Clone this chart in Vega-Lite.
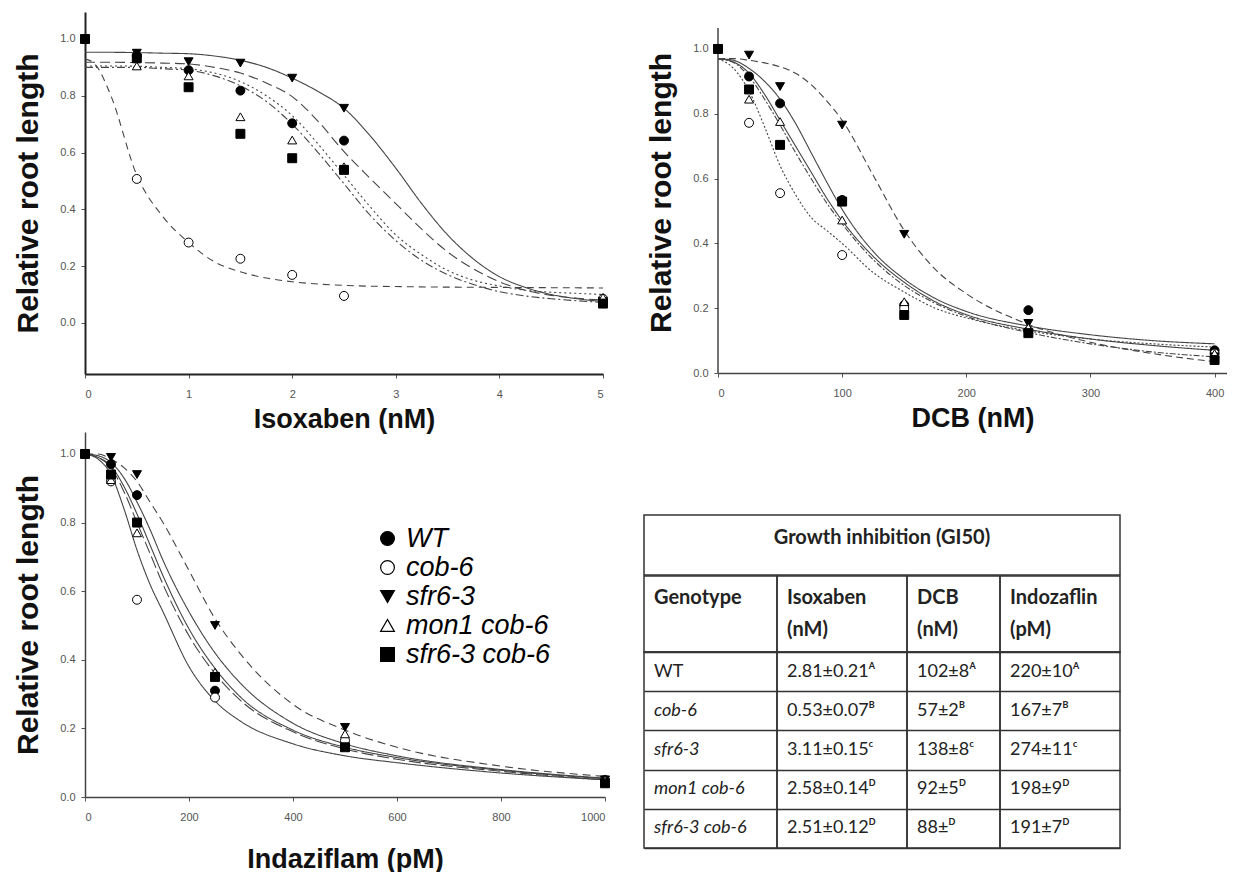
{
  "$schema": "https://vega.github.io/schema/vega-lite/v6.json",
  "background": "white",
  "padding": {"left": 13, "top": 12, "right": 0, "bottom": 0},
  "config": {
    "view": {"stroke": null},
    "font": "Liberation Sans",
    "axis": {"labelFont": "Liberation Sans", "labelFontSize": 11, "labelColor": "#555", "tickColor": "#555", "domainColor": "#444", "domainWidth": 1.5, "tickSize": 4, "titleFont": "Liberation Sans", "titleColor": "#111", "titleFontWeight": "bold", "grid": false},
    "axisX": {"labelPadding": 10, "titleFontSize": 27, "titlePadding": 7},
    "axisY": {"labelPadding": 6, "titleFontSize": 30, "titlePadding": 16}
  },
  "datasets": {
    "isoFit": [
      {"genotype":"sfr6-3","conc":0,"rel":0.953},{"genotype":"sfr6-3","conc":0.25,"rel":0.953},{"genotype":"sfr6-3","conc":0.5,"rel":0.952},{"genotype":"sfr6-3","conc":0.75,"rel":0.95},{"genotype":"sfr6-3","conc":1,"rel":0.948},{"genotype":"sfr6-3","conc":1.25,"rel":0.94},{"genotype":"sfr6-3","conc":1.5,"rel":0.925},{"genotype":"sfr6-3","conc":1.75,"rel":0.9},{"genotype":"sfr6-3","conc":2,"rel":0.862},{"genotype":"sfr6-3","conc":2.25,"rel":0.815},{"genotype":"sfr6-3","conc":2.5,"rel":0.756},{"genotype":"sfr6-3","conc":2.75,"rel":0.66},{"genotype":"sfr6-3","conc":3,"rel":0.545},{"genotype":"sfr6-3","conc":3.25,"rel":0.42},{"genotype":"sfr6-3","conc":3.5,"rel":0.31},{"genotype":"sfr6-3","conc":3.75,"rel":0.225},{"genotype":"sfr6-3","conc":4,"rel":0.163},{"genotype":"sfr6-3","conc":4.25,"rel":0.125},{"genotype":"sfr6-3","conc":4.5,"rel":0.1},{"genotype":"sfr6-3","conc":4.75,"rel":0.085},{"genotype":"sfr6-3","conc":5,"rel":0.075},
      {"genotype":"WT","conc":0,"rel":0.918},{"genotype":"WT","conc":0.25,"rel":0.918},{"genotype":"WT","conc":0.5,"rel":0.917},{"genotype":"WT","conc":0.75,"rel":0.915},{"genotype":"WT","conc":1,"rel":0.912},{"genotype":"WT","conc":1.25,"rel":0.9},{"genotype":"WT","conc":1.5,"rel":0.88},{"genotype":"WT","conc":1.75,"rel":0.845},{"genotype":"WT","conc":2,"rel":0.797},{"genotype":"WT","conc":2.25,"rel":0.71},{"genotype":"WT","conc":2.5,"rel":0.603},{"genotype":"WT","conc":2.75,"rel":0.51},{"genotype":"WT","conc":3,"rel":0.42},{"genotype":"WT","conc":3.25,"rel":0.33},{"genotype":"WT","conc":3.5,"rel":0.25},{"genotype":"WT","conc":3.75,"rel":0.19},{"genotype":"WT","conc":4,"rel":0.145},{"genotype":"WT","conc":4.25,"rel":0.115},{"genotype":"WT","conc":4.5,"rel":0.097},{"genotype":"WT","conc":4.75,"rel":0.087},{"genotype":"WT","conc":5,"rel":0.08},
      {"genotype":"mon1 cob-6","conc":0,"rel":0.905},{"genotype":"mon1 cob-6","conc":0.25,"rel":0.905},{"genotype":"mon1 cob-6","conc":0.5,"rel":0.904},{"genotype":"mon1 cob-6","conc":0.75,"rel":0.9},{"genotype":"mon1 cob-6","conc":1,"rel":0.895},{"genotype":"mon1 cob-6","conc":1.25,"rel":0.88},{"genotype":"mon1 cob-6","conc":1.5,"rel":0.85},{"genotype":"mon1 cob-6","conc":1.75,"rel":0.8},{"genotype":"mon1 cob-6","conc":2,"rel":0.73},{"genotype":"mon1 cob-6","conc":2.25,"rel":0.63},{"genotype":"mon1 cob-6","conc":2.5,"rel":0.52},{"genotype":"mon1 cob-6","conc":2.75,"rel":0.41},{"genotype":"mon1 cob-6","conc":3,"rel":0.31},{"genotype":"mon1 cob-6","conc":3.25,"rel":0.24},{"genotype":"mon1 cob-6","conc":3.5,"rel":0.185},{"genotype":"mon1 cob-6","conc":3.75,"rel":0.15},{"genotype":"mon1 cob-6","conc":4,"rel":0.13},{"genotype":"mon1 cob-6","conc":4.25,"rel":0.115},{"genotype":"mon1 cob-6","conc":4.5,"rel":0.108},{"genotype":"mon1 cob-6","conc":4.75,"rel":0.104},{"genotype":"mon1 cob-6","conc":5,"rel":0.1},
      {"genotype":"sfr6-3 cob-6","conc":0,"rel":0.9},{"genotype":"sfr6-3 cob-6","conc":0.25,"rel":0.9},{"genotype":"sfr6-3 cob-6","conc":0.5,"rel":0.9},{"genotype":"sfr6-3 cob-6","conc":0.75,"rel":0.895},{"genotype":"sfr6-3 cob-6","conc":1,"rel":0.89},{"genotype":"sfr6-3 cob-6","conc":1.25,"rel":0.87},{"genotype":"sfr6-3 cob-6","conc":1.5,"rel":0.835},{"genotype":"sfr6-3 cob-6","conc":1.75,"rel":0.78},{"genotype":"sfr6-3 cob-6","conc":2,"rel":0.7},{"genotype":"sfr6-3 cob-6","conc":2.25,"rel":0.6},{"genotype":"sfr6-3 cob-6","conc":2.5,"rel":0.49},{"genotype":"sfr6-3 cob-6","conc":2.75,"rel":0.38},{"genotype":"sfr6-3 cob-6","conc":3,"rel":0.29},{"genotype":"sfr6-3 cob-6","conc":3.25,"rel":0.22},{"genotype":"sfr6-3 cob-6","conc":3.5,"rel":0.17},{"genotype":"sfr6-3 cob-6","conc":3.75,"rel":0.135},{"genotype":"sfr6-3 cob-6","conc":4,"rel":0.11},{"genotype":"sfr6-3 cob-6","conc":4.25,"rel":0.095},{"genotype":"sfr6-3 cob-6","conc":4.5,"rel":0.085},{"genotype":"sfr6-3 cob-6","conc":4.75,"rel":0.078},{"genotype":"sfr6-3 cob-6","conc":5,"rel":0.072},
      {"genotype":"cob-6","conc":0,"rel":0.93},{"genotype":"cob-6","conc":0.1,"rel":0.91},{"genotype":"cob-6","conc":0.25,"rel":0.8},{"genotype":"cob-6","conc":0.5,"rel":0.52},{"genotype":"cob-6","conc":0.75,"rel":0.375},{"genotype":"cob-6","conc":1,"rel":0.283},{"genotype":"cob-6","conc":1.25,"rel":0.215},{"genotype":"cob-6","conc":1.5,"rel":0.18},{"genotype":"cob-6","conc":1.75,"rel":0.158},{"genotype":"cob-6","conc":2,"rel":0.145},{"genotype":"cob-6","conc":2.5,"rel":0.132},{"genotype":"cob-6","conc":3,"rel":0.128},{"genotype":"cob-6","conc":3.5,"rel":0.126},{"genotype":"cob-6","conc":4,"rel":0.125},{"genotype":"cob-6","conc":4.5,"rel":0.124},{"genotype":"cob-6","conc":5,"rel":0.123}
    ],
    "isoPts": [
      {"genotype":"WT","conc":0,"rel":1.0},{"genotype":"WT","conc":0.5,"rel":0.94},{"genotype":"WT","conc":1,"rel":0.89},{"genotype":"WT","conc":1.5,"rel":0.818},{"genotype":"WT","conc":2,"rel":0.703},{"genotype":"WT","conc":2.5,"rel":0.642},{"genotype":"WT","conc":5,"rel":0.075},
      {"genotype":"cob-6","conc":0,"rel":1.0},{"genotype":"cob-6","conc":0.5,"rel":0.507},{"genotype":"cob-6","conc":1,"rel":0.283},{"genotype":"cob-6","conc":1.5,"rel":0.226},{"genotype":"cob-6","conc":2,"rel":0.169},{"genotype":"cob-6","conc":2.5,"rel":0.095},{"genotype":"cob-6","conc":5,"rel":0.085},
      {"genotype":"sfr6-3","conc":0,"rel":1.0},{"genotype":"sfr6-3","conc":0.5,"rel":0.95},{"genotype":"sfr6-3","conc":1,"rel":0.92},{"genotype":"sfr6-3","conc":1.5,"rel":0.915},{"genotype":"sfr6-3","conc":2,"rel":0.862},{"genotype":"sfr6-3","conc":2.5,"rel":0.756},{"genotype":"sfr6-3","conc":5,"rel":0.075},
      {"genotype":"mon1 cob-6","conc":0,"rel":1.0},{"genotype":"mon1 cob-6","conc":0.5,"rel":0.905},{"genotype":"mon1 cob-6","conc":1,"rel":0.87},{"genotype":"mon1 cob-6","conc":1.5,"rel":0.726},{"genotype":"mon1 cob-6","conc":2,"rel":0.644},{"genotype":"mon1 cob-6","conc":2.5,"rel":0.55},{"genotype":"mon1 cob-6","conc":5,"rel":0.09},
      {"genotype":"sfr6-3 cob-6","conc":0,"rel":1.0},{"genotype":"sfr6-3 cob-6","conc":0.5,"rel":0.932},{"genotype":"sfr6-3 cob-6","conc":1,"rel":0.83},{"genotype":"sfr6-3 cob-6","conc":1.5,"rel":0.666},{"genotype":"sfr6-3 cob-6","conc":2,"rel":0.58},{"genotype":"sfr6-3 cob-6","conc":2.5,"rel":0.539},{"genotype":"sfr6-3 cob-6","conc":5,"rel":0.068}
    ],
    "dcbFit": [
      {"genotype":"WT","conc":0,"rel":0.97},{"genotype":"WT","conc":12.5,"rel":0.965},{"genotype":"WT","conc":25,"rel":0.94},{"genotype":"WT","conc":37.5,"rel":0.9},{"genotype":"WT","conc":50,"rel":0.845},{"genotype":"WT","conc":62.5,"rel":0.77},{"genotype":"WT","conc":75,"rel":0.68},{"genotype":"WT","conc":87.5,"rel":0.59},{"genotype":"WT","conc":100,"rel":0.505},{"genotype":"WT","conc":125,"rel":0.375},{"genotype":"WT","conc":150,"rel":0.29},{"genotype":"WT","conc":175,"rel":0.23},{"genotype":"WT","conc":200,"rel":0.19},{"genotype":"WT","conc":250,"rel":0.145},{"genotype":"WT","conc":300,"rel":0.118},{"genotype":"WT","conc":350,"rel":0.1},{"genotype":"WT","conc":400,"rel":0.09},
      {"genotype":"sfr6-3","conc":0,"rel":0.97},{"genotype":"sfr6-3","conc":12.5,"rel":0.97},{"genotype":"sfr6-3","conc":25,"rel":0.965},{"genotype":"sfr6-3","conc":37.5,"rel":0.957},{"genotype":"sfr6-3","conc":50,"rel":0.945},{"genotype":"sfr6-3","conc":62.5,"rel":0.925},{"genotype":"sfr6-3","conc":75,"rel":0.89},{"genotype":"sfr6-3","conc":87.5,"rel":0.84},{"genotype":"sfr6-3","conc":100,"rel":0.78},{"genotype":"sfr6-3","conc":125,"rel":0.61},{"genotype":"sfr6-3","conc":150,"rel":0.44},{"genotype":"sfr6-3","conc":175,"rel":0.32},{"genotype":"sfr6-3","conc":200,"rel":0.245},{"genotype":"sfr6-3","conc":250,"rel":0.15},{"genotype":"sfr6-3","conc":300,"rel":0.095},{"genotype":"sfr6-3","conc":350,"rel":0.06},{"genotype":"sfr6-3","conc":400,"rel":0.035},
      {"genotype":"mon1 cob-6","conc":0,"rel":0.97},{"genotype":"mon1 cob-6","conc":12.5,"rel":0.96},{"genotype":"mon1 cob-6","conc":25,"rel":0.925},{"genotype":"mon1 cob-6","conc":37.5,"rel":0.86},{"genotype":"mon1 cob-6","conc":50,"rel":0.78},{"genotype":"mon1 cob-6","conc":62.5,"rel":0.7},{"genotype":"mon1 cob-6","conc":75,"rel":0.62},{"genotype":"mon1 cob-6","conc":87.5,"rel":0.54},{"genotype":"mon1 cob-6","conc":100,"rel":0.47},{"genotype":"mon1 cob-6","conc":125,"rel":0.36},{"genotype":"mon1 cob-6","conc":150,"rel":0.28},{"genotype":"mon1 cob-6","conc":175,"rel":0.22},{"genotype":"mon1 cob-6","conc":200,"rel":0.18},{"genotype":"mon1 cob-6","conc":250,"rel":0.135},{"genotype":"mon1 cob-6","conc":300,"rel":0.105},{"genotype":"mon1 cob-6","conc":350,"rel":0.085},{"genotype":"mon1 cob-6","conc":400,"rel":0.07},
      {"genotype":"sfr6-3 cob-6","conc":0,"rel":0.97},{"genotype":"sfr6-3 cob-6","conc":12.5,"rel":0.958},{"genotype":"sfr6-3 cob-6","conc":25,"rel":0.915},{"genotype":"sfr6-3 cob-6","conc":37.5,"rel":0.845},{"genotype":"sfr6-3 cob-6","conc":50,"rel":0.765},{"genotype":"sfr6-3 cob-6","conc":62.5,"rel":0.68},{"genotype":"sfr6-3 cob-6","conc":75,"rel":0.6},{"genotype":"sfr6-3 cob-6","conc":87.5,"rel":0.525},{"genotype":"sfr6-3 cob-6","conc":100,"rel":0.46},{"genotype":"sfr6-3 cob-6","conc":125,"rel":0.35},{"genotype":"sfr6-3 cob-6","conc":150,"rel":0.27},{"genotype":"sfr6-3 cob-6","conc":175,"rel":0.215},{"genotype":"sfr6-3 cob-6","conc":200,"rel":0.175},{"genotype":"sfr6-3 cob-6","conc":250,"rel":0.125},{"genotype":"sfr6-3 cob-6","conc":300,"rel":0.09},{"genotype":"sfr6-3 cob-6","conc":350,"rel":0.065},{"genotype":"sfr6-3 cob-6","conc":400,"rel":0.05},
      {"genotype":"cob-6","conc":0,"rel":0.97},{"genotype":"cob-6","conc":12.5,"rel":0.94},{"genotype":"cob-6","conc":25,"rel":0.87},{"genotype":"cob-6","conc":37.5,"rel":0.76},{"genotype":"cob-6","conc":50,"rel":0.64},{"genotype":"cob-6","conc":62.5,"rel":0.55},{"genotype":"cob-6","conc":75,"rel":0.48},{"genotype":"cob-6","conc":87.5,"rel":0.44},{"genotype":"cob-6","conc":100,"rel":0.4},{"genotype":"cob-6","conc":125,"rel":0.31},{"genotype":"cob-6","conc":150,"rel":0.25},{"genotype":"cob-6","conc":175,"rel":0.2},{"genotype":"cob-6","conc":200,"rel":0.17},{"genotype":"cob-6","conc":250,"rel":0.13},{"genotype":"cob-6","conc":300,"rel":0.105},{"genotype":"cob-6","conc":350,"rel":0.09},{"genotype":"cob-6","conc":400,"rel":0.08}
    ],
    "dcbPts": [
      {"genotype":"WT","conc":0,"rel":1.0},{"genotype":"WT","conc":25,"rel":0.915},{"genotype":"WT","conc":50,"rel":0.832},{"genotype":"WT","conc":100,"rel":0.534},{"genotype":"WT","conc":150,"rel":0.21},{"genotype":"WT","conc":250,"rel":0.194},{"genotype":"WT","conc":400,"rel":0.07},
      {"genotype":"cob-6","conc":0,"rel":1.0},{"genotype":"cob-6","conc":25,"rel":0.772},{"genotype":"cob-6","conc":50,"rel":0.555},{"genotype":"cob-6","conc":100,"rel":0.364},{"genotype":"cob-6","conc":150,"rel":0.2},{"genotype":"cob-6","conc":250,"rel":0.13},{"genotype":"cob-6","conc":400,"rel":0.06},
      {"genotype":"sfr6-3","conc":0,"rel":1.0},{"genotype":"sfr6-3","conc":25,"rel":0.981},{"genotype":"sfr6-3","conc":50,"rel":0.884},{"genotype":"sfr6-3","conc":100,"rel":0.765},{"genotype":"sfr6-3","conc":150,"rel":0.428},{"genotype":"sfr6-3","conc":250,"rel":0.153},{"genotype":"sfr6-3","conc":400,"rel":0.05},
      {"genotype":"mon1 cob-6","conc":0,"rel":1.0},{"genotype":"mon1 cob-6","conc":25,"rel":0.845},{"genotype":"mon1 cob-6","conc":50,"rel":0.776},{"genotype":"mon1 cob-6","conc":100,"rel":0.472},{"genotype":"mon1 cob-6","conc":150,"rel":0.22},{"genotype":"mon1 cob-6","conc":250,"rel":0.14},{"genotype":"mon1 cob-6","conc":400,"rel":0.06},
      {"genotype":"sfr6-3 cob-6","conc":0,"rel":1.0},{"genotype":"sfr6-3 cob-6","conc":25,"rel":0.875},{"genotype":"sfr6-3 cob-6","conc":50,"rel":0.704},{"genotype":"sfr6-3 cob-6","conc":100,"rel":0.529},{"genotype":"sfr6-3 cob-6","conc":150,"rel":0.179},{"genotype":"sfr6-3 cob-6","conc":250,"rel":0.123},{"genotype":"sfr6-3 cob-6","conc":400,"rel":0.04}
    ],
    "indFit": [
      {"genotype":"cob-6","conc":0,"rel":1.0},{"genotype":"cob-6","conc":25,"rel":0.985},{"genotype":"cob-6","conc":50,"rel":0.94},{"genotype":"cob-6","conc":75,"rel":0.84},{"genotype":"cob-6","conc":100,"rel":0.72},{"genotype":"cob-6","conc":125,"rel":0.62},{"genotype":"cob-6","conc":150,"rel":0.54},{"genotype":"cob-6","conc":200,"rel":0.38},{"genotype":"cob-6","conc":250,"rel":0.28},{"genotype":"cob-6","conc":300,"rel":0.22},{"genotype":"cob-6","conc":400,"rel":0.155},{"genotype":"cob-6","conc":500,"rel":0.12},{"genotype":"cob-6","conc":600,"rel":0.1},{"genotype":"cob-6","conc":800,"rel":0.07},{"genotype":"cob-6","conc":1000,"rel":0.05},
      {"genotype":"sfr6-3 cob-6","conc":0,"rel":1.0},{"genotype":"sfr6-3 cob-6","conc":25,"rel":0.99},{"genotype":"sfr6-3 cob-6","conc":50,"rel":0.96},{"genotype":"sfr6-3 cob-6","conc":75,"rel":0.89},{"genotype":"sfr6-3 cob-6","conc":100,"rel":0.8},{"genotype":"sfr6-3 cob-6","conc":125,"rel":0.71},{"genotype":"sfr6-3 cob-6","conc":150,"rel":0.62},{"genotype":"sfr6-3 cob-6","conc":200,"rel":0.47},{"genotype":"sfr6-3 cob-6","conc":250,"rel":0.36},{"genotype":"sfr6-3 cob-6","conc":300,"rel":0.28},{"genotype":"sfr6-3 cob-6","conc":400,"rel":0.19},{"genotype":"sfr6-3 cob-6","conc":500,"rel":0.14},{"genotype":"sfr6-3 cob-6","conc":600,"rel":0.11},{"genotype":"sfr6-3 cob-6","conc":800,"rel":0.075},{"genotype":"sfr6-3 cob-6","conc":1000,"rel":0.05},
      {"genotype":"mon1 cob-6","conc":0,"rel":1.0},{"genotype":"mon1 cob-6","conc":25,"rel":0.99},{"genotype":"mon1 cob-6","conc":50,"rel":0.965},{"genotype":"mon1 cob-6","conc":75,"rel":0.905},{"genotype":"mon1 cob-6","conc":100,"rel":0.825},{"genotype":"mon1 cob-6","conc":125,"rel":0.735},{"genotype":"mon1 cob-6","conc":150,"rel":0.645},{"genotype":"mon1 cob-6","conc":200,"rel":0.49},{"genotype":"mon1 cob-6","conc":250,"rel":0.375},{"genotype":"mon1 cob-6","conc":300,"rel":0.29},{"genotype":"mon1 cob-6","conc":400,"rel":0.195},{"genotype":"mon1 cob-6","conc":500,"rel":0.145},{"genotype":"mon1 cob-6","conc":600,"rel":0.115},{"genotype":"mon1 cob-6","conc":800,"rel":0.078},{"genotype":"mon1 cob-6","conc":1000,"rel":0.053},
      {"genotype":"WT","conc":0,"rel":1.0},{"genotype":"WT","conc":25,"rel":0.995},{"genotype":"WT","conc":50,"rel":0.975},{"genotype":"WT","conc":75,"rel":0.93},{"genotype":"WT","conc":100,"rel":0.86},{"genotype":"WT","conc":125,"rel":0.78},{"genotype":"WT","conc":150,"rel":0.69},{"genotype":"WT","conc":200,"rel":0.54},{"genotype":"WT","conc":250,"rel":0.42},{"genotype":"WT","conc":300,"rel":0.33},{"genotype":"WT","conc":400,"rel":0.215},{"genotype":"WT","conc":500,"rel":0.155},{"genotype":"WT","conc":600,"rel":0.12},{"genotype":"WT","conc":800,"rel":0.08},{"genotype":"WT","conc":1000,"rel":0.055},
      {"genotype":"sfr6-3","conc":0,"rel":1.0},{"genotype":"sfr6-3","conc":25,"rel":1.0},{"genotype":"sfr6-3","conc":50,"rel":0.985},{"genotype":"sfr6-3","conc":75,"rel":0.96},{"genotype":"sfr6-3","conc":100,"rel":0.92},{"genotype":"sfr6-3","conc":125,"rel":0.86},{"genotype":"sfr6-3","conc":150,"rel":0.8},{"genotype":"sfr6-3","conc":200,"rel":0.66},{"genotype":"sfr6-3","conc":250,"rel":0.52},{"genotype":"sfr6-3","conc":300,"rel":0.415},{"genotype":"sfr6-3","conc":400,"rel":0.27},{"genotype":"sfr6-3","conc":500,"rel":0.195},{"genotype":"sfr6-3","conc":600,"rel":0.145},{"genotype":"sfr6-3","conc":800,"rel":0.09},{"genotype":"sfr6-3","conc":1000,"rel":0.06}
    ],
    "indPts": [
      {"genotype":"WT","conc":0,"rel":1.0},{"genotype":"WT","conc":50,"rel":0.97},{"genotype":"WT","conc":100,"rel":0.88},{"genotype":"WT","conc":250,"rel":0.31},{"genotype":"WT","conc":500,"rel":0.15},{"genotype":"WT","conc":1000,"rel":0.045},
      {"genotype":"cob-6","conc":0,"rel":1.0},{"genotype":"cob-6","conc":50,"rel":0.92},{"genotype":"cob-6","conc":100,"rel":0.575},{"genotype":"cob-6","conc":250,"rel":0.29},{"genotype":"cob-6","conc":500,"rel":0.165},{"genotype":"cob-6","conc":1000,"rel":0.05},
      {"genotype":"sfr6-3","conc":0,"rel":1.0},{"genotype":"sfr6-3","conc":50,"rel":0.99},{"genotype":"sfr6-3","conc":100,"rel":0.94},{"genotype":"sfr6-3","conc":250,"rel":0.5},{"genotype":"sfr6-3","conc":500,"rel":0.203},{"genotype":"sfr6-3","conc":1000,"rel":0.05},
      {"genotype":"mon1 cob-6","conc":0,"rel":1.0},{"genotype":"mon1 cob-6","conc":50,"rel":0.925},{"genotype":"mon1 cob-6","conc":100,"rel":0.77},{"genotype":"mon1 cob-6","conc":250,"rel":0.364},{"genotype":"mon1 cob-6","conc":500,"rel":0.184},{"genotype":"mon1 cob-6","conc":1000,"rel":0.05},
      {"genotype":"sfr6-3 cob-6","conc":0,"rel":1.0},{"genotype":"sfr6-3 cob-6","conc":50,"rel":0.94},{"genotype":"sfr6-3 cob-6","conc":100,"rel":0.8},{"genotype":"sfr6-3 cob-6","conc":250,"rel":0.35},{"genotype":"sfr6-3 cob-6","conc":500,"rel":0.145},{"genotype":"sfr6-3 cob-6","conc":1000,"rel":0.04}
    ],
    "gi50": [
      {"genotype":"WT","iso":"2.81±0.21ᴬ","dcb":"102±8ᴬ","ind":"220±10ᴬ"},
      {"genotype":"cob-6","iso":"0.53±0.07ᴮ","dcb":"57±2ᴮ","ind":"167±7ᴮ"},
      {"genotype":"sfr6-3","iso":"3.11±0.15ᶜ","dcb":"138±8ᶜ","ind":"274±11ᶜ"},
      {"genotype":"mon1 cob-6","iso":"2.58±0.14ᴰ","dcb":"92±5ᴰ","ind":"198±9ᴰ"},
      {"genotype":"sfr6-3 cob-6","iso":"2.51±0.12ᴰ","dcb":"88±ᴰ","ind":"191±7ᴰ"}
    ]
  },
  "spacing": 0,
  "resolve": {"scale": {"x": "independent", "y": "independent", "strokeDash": "independent"}},
  "vconcat": [
    {
      "spacing": 36,
      "resolve": {"scale": {"x": "independent", "y": "independent", "strokeDash": "independent"}},
      "hconcat": [
        {
          "width": 518, "height": 362,
          "layer": [
            {
              "data": {"name": "isoFit"},
              "mark": {"type": "line", "interpolate": "monotone", "color": "#444", "strokeWidth": 1.1},
              "encoding": {
                "x": {"field": "conc", "type": "quantitative", "title": "Isoxaben (nM)", "scale": {"domain": [0, 5]}, "axis": {"values": [0, 1, 2, 3, 4, 5], "format": "d", "domainColor": "#222", "domainWidth": 2}},
                "y": {"field": "rel", "type": "quantitative", "title": "Relative root length", "scale": {"domain": [-0.18, 1.095]}, "axis": {"values": [0, 0.2, 0.4, 0.6, 0.8, 1.0], "format": ".1f", "domainColor": "#222", "domainWidth": 2}},
                "strokeDash": {"field": "genotype", "type": "nominal", "legend": null, "scale": {"domain": ["WT", "cob-6", "sfr6-3", "mon1 cob-6", "sfr6-3 cob-6"], "range": [[10, 5], [7, 5], [1, 0], [2, 3], [8, 3, 2, 3]]}}
              }
            },
            {
              "data": {"name": "isoPts"},
              "mark": {"type": "point", "filled": true, "stroke": "black", "strokeWidth": 1, "size": 80, "opacity": 1},
              "encoding": {
                "x": {"field": "conc", "type": "quantitative", "title": "Isoxaben (nM)", "scale": {"domain": [0, 5]}},
                "y": {"field": "rel", "type": "quantitative", "title": "Relative root length", "scale": {"domain": [-0.18, 1.095]}},
                "shape": {"field": "genotype", "type": "nominal", "scale": {"domain": ["WT", "cob-6", "sfr6-3", "mon1 cob-6", "sfr6-3 cob-6"], "range": ["circle", "circle", "triangle-down", "triangle-up", "square"]}},
                "fill": {"field": "genotype", "type": "nominal", "scale": {"domain": ["WT", "cob-6", "sfr6-3", "mon1 cob-6", "sfr6-3 cob-6"], "range": ["black", "white", "black", "white", "black"]}}
              }
            }
          ]
        },
        {
          "width": 509, "height": 361,
          "layer": [
            {
              "data": {"values": [{"conc": 0, "lo": 0, "hi": 1.065}]},
              "mark": {"type": "rule", "color": "#444", "strokeWidth": 1.5},
              "encoding": {
                "x": {"field": "conc", "type": "quantitative", "title": "DCB (nM)", "scale": {"domain": [0, 410]}, "axis": {"values": [0, 100, 200, 300, 400], "format": "d"}},
                "y": {"field": "lo", "type": "quantitative", "title": "Relative root length", "scale": {"domain": [0, 1.114]}, "axis": {"values": [0, 0.2, 0.4, 0.6, 0.8, 1.0], "format": ".1f", "domain": false}},
                "y2": {"field": "hi"}
              }
            },
            {
              "data": {"name": "dcbFit"},
              "mark": {"type": "line", "interpolate": "monotone", "color": "#444", "strokeWidth": 1.1},
              "encoding": {
                "x": {"field": "conc", "type": "quantitative", "title": "DCB (nM)", "scale": {"domain": [0, 410]}},
                "y": {"field": "rel", "type": "quantitative", "title": "Relative root length", "scale": {"domain": [0, 1.114]}},
                "strokeDash": {"field": "genotype", "type": "nominal", "legend": null, "scale": {"domain": ["WT", "cob-6", "sfr6-3", "mon1 cob-6", "sfr6-3 cob-6"], "range": [[1, 0], [2, 2], [7, 4], [1, 0], [6, 2, 2, 2]]}}
              }
            },
            {
              "data": {"name": "dcbPts"},
              "mark": {"type": "point", "filled": true, "stroke": "black", "strokeWidth": 1, "size": 80, "opacity": 1},
              "encoding": {
                "x": {"field": "conc", "type": "quantitative", "title": "DCB (nM)", "scale": {"domain": [0, 410]}},
                "y": {"field": "rel", "type": "quantitative", "title": "Relative root length", "scale": {"domain": [0, 1.114]}},
                "shape": {"field": "genotype", "type": "nominal", "scale": {"domain": ["WT", "cob-6", "sfr6-3", "mon1 cob-6", "sfr6-3 cob-6"], "range": ["circle", "circle", "triangle-down", "triangle-up", "square"]}},
                "fill": {"field": "genotype", "type": "nominal", "scale": {"domain": ["WT", "cob-6", "sfr6-3", "mon1 cob-6", "sfr6-3 cob-6"], "range": ["black", "white", "black", "white", "black"]}}
              }
            }
          ]
        }
      ]
    },
    {
      "spacing": 31,
      "resolve": {"scale": {"x": "independent", "y": "independent", "strokeDash": "independent"}},
      "hconcat": [
        {
          "width": 520, "height": 365,
          "layer": [
            {
              "data": {"name": "indFit"},
              "mark": {"type": "line", "interpolate": "monotone", "color": "#444", "strokeWidth": 1.1},
              "encoding": {
                "x": {"field": "conc", "type": "quantitative", "title": "Indaziflam (pM)", "scale": {"domain": [0, 1000]}, "axis": {"values": [0, 200, 400, 600, 800, 1000], "format": "d", "titlePadding": 24}},
                "y": {"field": "rel", "type": "quantitative", "title": "Relative root length", "scale": {"domain": [0, 1.064]}, "axis": {"values": [0, 0.2, 0.4, 0.6, 0.8, 1.0], "format": ".1f"}},
                "strokeDash": {"field": "genotype", "type": "nominal", "legend": null, "scale": {"domain": ["WT", "cob-6", "sfr6-3", "mon1 cob-6", "sfr6-3 cob-6"], "range": [[1, 0], [1, 0], [8, 5], [1, 0], [12, 4]]}}
              }
            },
            {
              "data": {"name": "indPts"},
              "mark": {"type": "point", "filled": true, "stroke": "black", "strokeWidth": 1, "size": 80, "opacity": 1},
              "encoding": {
                "x": {"field": "conc", "type": "quantitative", "title": "Indaziflam (pM)", "scale": {"domain": [0, 1000]}},
                "y": {"field": "rel", "type": "quantitative", "title": "Relative root length", "scale": {"domain": [0, 1.064]}},
                "shape": {"field": "genotype", "type": "nominal", "scale": {"domain": ["WT", "cob-6", "sfr6-3", "mon1 cob-6", "sfr6-3 cob-6"], "range": ["circle", "circle", "triangle-down", "triangle-up", "square"]},
                  "legend": {"orient": "none", "legendX": 289, "legendY": 513, "title": null, "labelFont": "Liberation Sans", "labelFontSize": 27, "labelFontStyle": "italic", "labelColor": "black", "symbolSize": 190, "symbolStrokeColor": "black", "symbolStrokeWidth": 1.2, "rowPadding": 1, "labelOffset": 5, "encode": {"labels": {"fontStyle": {"condition": {"test": "datum.label === 'WT'", "value": "normal"}, "value": "italic"}}}}},
                "fill": {"field": "genotype", "type": "nominal", "scale": {"domain": ["WT", "cob-6", "sfr6-3", "mon1 cob-6", "sfr6-3 cob-6"], "range": ["black", "white", "black", "white", "black"]},
                  "legend": {"orient": "none", "legendX": 289, "legendY": 513, "title": null, "labelFont": "Liberation Sans", "labelFontSize": 27, "labelFontStyle": "italic", "labelColor": "black", "symbolSize": 190, "symbolStrokeColor": "black", "symbolStrokeWidth": 1.2, "rowPadding": 1, "labelOffset": 5, "encode": {"labels": {"fontStyle": {"condition": {"test": "datum.label === 'WT'", "value": "normal"}, "value": "italic"}}}}}
              }
            }
          ]
        },
        {
          "spacing": -1.5,
          "vconcat": [
            {
              "width": 476, "height": 83,
              "data": {"values": [{"t": ""}]},
              "mark": {"type": "text"},
              "encoding": {"text": {"field": "t", "type": "nominal"}}
            },
            {
              "width": 476, "height": 60,
              "view": {"stroke": "#333", "strokeWidth": 1.5},
              "data": {"values": [{"t": "Growth inhibition  (GI50)"}]},
              "mark": {"type": "text", "font": "Lato", "fontSize": 20, "fontWeight": "bold", "color": "#222", "dy": -7},
              "encoding": {"text": {"field": "t", "type": "nominal"}}
            },
            {
              "columns": 4,
              "spacing": 0,
              "bounds": "flush",
              "align": "each",
              "concat": [
                {"width": 133, "height": 76, "view": {"stroke": "#333", "strokeWidth": 1.5},
                 "data": {"values": [{"h": "Genotype\n "}]},
                 "mark": {"type": "text", "font": "Lato", "fontSize": 20, "fontWeight": "bold", "color": "#222", "align": "left", "dx": 10, "dy": -16, "lineBreak": "\n", "lineHeight": 32},
                 "encoding": {"x": {"datum": 0, "type": "quantitative", "scale": {"domain": [0, 1]}, "axis": null}, "text": {"field": "h", "type": "nominal"}}},
                {"width": 130, "height": 76, "view": {"stroke": "#333", "strokeWidth": 1.5},
                 "data": {"values": [{"h": "Isoxaben\n(nM)"}]},
                 "mark": {"type": "text", "font": "Lato", "fontSize": 20, "fontWeight": "bold", "color": "#222", "align": "left", "dx": 10, "dy": -16, "lineBreak": "\n", "lineHeight": 32},
                 "encoding": {"x": {"datum": 0, "type": "quantitative", "scale": {"domain": [0, 1]}, "axis": null}, "text": {"field": "h", "type": "nominal"}}},
                {"width": 93, "height": 76, "view": {"stroke": "#333", "strokeWidth": 1.5},
                 "data": {"values": [{"h": "DCB\n(nM)"}]},
                 "mark": {"type": "text", "font": "Lato", "fontSize": 20, "fontWeight": "bold", "color": "#222", "align": "left", "dx": 10, "dy": -16, "lineBreak": "\n", "lineHeight": 32},
                 "encoding": {"x": {"datum": 0, "type": "quantitative", "scale": {"domain": [0, 1]}, "axis": null}, "text": {"field": "h", "type": "nominal"}}},
                {"width": 120, "height": 76, "view": {"stroke": "#333", "strokeWidth": 1.5},
                 "data": {"values": [{"h": "Indozaflin\n(pM)"}]},
                 "mark": {"type": "text", "font": "Lato", "fontSize": 20, "fontWeight": "bold", "color": "#222", "align": "left", "dx": 10, "dy": -16, "lineBreak": "\n", "lineHeight": 32},
                 "encoding": {"x": {"datum": 0, "type": "quantitative", "scale": {"domain": [0, 1]}, "axis": null}, "text": {"field": "h", "type": "nominal"}}},
                {"width": 133, "height": 196, "view": {"stroke": "#333", "strokeWidth": 1.5},
                 "data": {"name": "gi50"},
                 "layer": [
                   {"transform": [{"filter": "datum.genotype === 'WT'"}],
                    "mark": {"type": "text", "font": "Lato", "fontSize": 18, "color": "#222", "align": "left", "dx": 10}},
                   {"transform": [{"filter": "datum.genotype !== 'WT'"}],
                    "mark": {"type": "text", "font": "Lato", "fontSize": 18, "fontStyle": "italic", "color": "#222", "align": "left", "dx": 10}}
                 ],
                 "encoding": {"x": {"datum": 0, "type": "quantitative", "scale": {"domain": [0, 1]}, "axis": null},
                   "y": {"field": "genotype", "type": "nominal", "scale": {"domain": ["WT", "cob-6", "sfr6-3", "mon1 cob-6", "sfr6-3 cob-6"], "paddingInner": 0, "paddingOuter": 0}, "axis": {"title": null, "labels": false, "ticks": false, "domain": false, "grid": true, "gridColor": "#333", "gridWidth": 1.5, "tickBand": "extent"}},
                   "text": {"field": "genotype", "type": "nominal"}}},
                {"width": 130, "height": 196, "view": {"stroke": "#333", "strokeWidth": 1.5},
                 "data": {"name": "gi50"},
                 "mark": {"type": "text", "font": "Lato", "fontSize": 18, "color": "#222", "align": "left", "dx": 10},
                 "encoding": {"x": {"datum": 0, "type": "quantitative", "scale": {"domain": [0, 1]}, "axis": null},
                   "y": {"field": "genotype", "type": "nominal", "scale": {"domain": ["WT", "cob-6", "sfr6-3", "mon1 cob-6", "sfr6-3 cob-6"], "paddingInner": 0, "paddingOuter": 0}, "axis": {"title": null, "labels": false, "ticks": false, "domain": false, "grid": true, "gridColor": "#333", "gridWidth": 1.5, "tickBand": "extent"}},
                   "text": {"field": "iso", "type": "nominal"}}},
                {"width": 93, "height": 196, "view": {"stroke": "#333", "strokeWidth": 1.5},
                 "data": {"name": "gi50"},
                 "mark": {"type": "text", "font": "Lato", "fontSize": 18, "color": "#222", "align": "left", "dx": 10},
                 "encoding": {"x": {"datum": 0, "type": "quantitative", "scale": {"domain": [0, 1]}, "axis": null},
                   "y": {"field": "genotype", "type": "nominal", "scale": {"domain": ["WT", "cob-6", "sfr6-3", "mon1 cob-6", "sfr6-3 cob-6"], "paddingInner": 0, "paddingOuter": 0}, "axis": {"title": null, "labels": false, "ticks": false, "domain": false, "grid": true, "gridColor": "#333", "gridWidth": 1.5, "tickBand": "extent"}},
                   "text": {"field": "dcb", "type": "nominal"}}},
                {"width": 120, "height": 196, "view": {"stroke": "#333", "strokeWidth": 1.5},
                 "data": {"name": "gi50"},
                 "mark": {"type": "text", "font": "Lato", "fontSize": 18, "color": "#222", "align": "left", "dx": 10},
                 "encoding": {"x": {"datum": 0, "type": "quantitative", "scale": {"domain": [0, 1]}, "axis": null},
                   "y": {"field": "genotype", "type": "nominal", "scale": {"domain": ["WT", "cob-6", "sfr6-3", "mon1 cob-6", "sfr6-3 cob-6"], "paddingInner": 0, "paddingOuter": 0}, "axis": {"title": null, "labels": false, "ticks": false, "domain": false, "grid": true, "gridColor": "#333", "gridWidth": 1.5, "tickBand": "extent"}},
                   "text": {"field": "ind", "type": "nominal"}}}
              ]
            }
          ]
        }
      ]
    }
  ]
}
